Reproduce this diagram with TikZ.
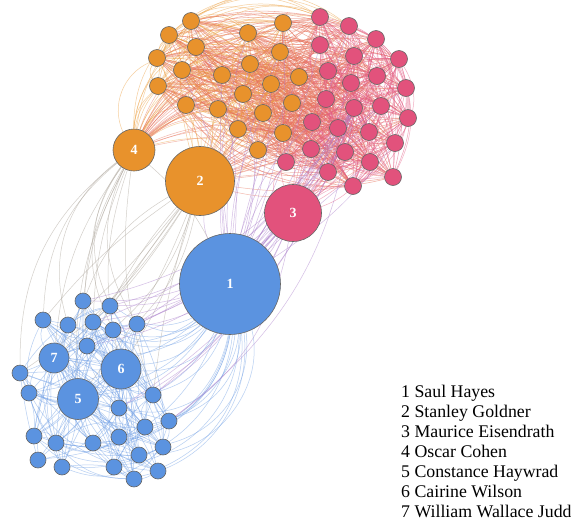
\documentclass[tikz,border=0pt]{standalone}
\usepackage{fontspec}
\setmainfont{Liberation Serif}
\definecolor{org}{HTML}{E8922C}
\definecolor{pnk}{HTML}{E2527C}
\definecolor{blu}{HTML}{5B93E0}
\definecolor{eo}{HTML}{EDA040}
\definecolor{ep}{HTML}{E45E86}
\definecolor{em}{HTML}{E8745E}
\definecolor{eb}{HTML}{6E9EE6}
\definecolor{epu}{HTML}{A97CCB}
\definecolor{egr}{HTML}{A8A095}
\pgfdeclarelayer{bgfill}
\pgfdeclarelayer{edges}
\pgfsetlayers{bgfill,edges,main}
\tikzset{
  nd/.style={circle, draw=black!60, line width=0.6pt, inner sep=0pt},
  sm/.style={nd, minimum size=17pt},
  onode/.style={sm, fill=org},
  pnode/.style={sm, fill=pnk},
  bnode/.style={sm, fill=blu, minimum size=16pt},
  lbl/.style={text=white, font=\bfseries\fontsize{14}{14}\selectfont},
  edg/.style={line width=0.5pt, opacity=0.5},
  tedg/.style={line width=0.55pt, opacity=0.55},
  leg/.style={anchor=base west, inner sep=0pt, font=\fontsize{17.8}{20}\selectfont}
}
\begin{document}
\begin{tikzpicture}[x=1pt,y=-1pt]
\begin{pgfonlayer}{bgfill}
\fill[white] (0,0) rectangle (571,520);
\end{pgfonlayer}
\useasboundingbox (0,0) rectangle (571,520);
% top cluster: t1..t21 orange, t22..t46 pink
\foreach \x/\y [count=\i] in {191/21,169/35,196/47,157/58,182/70,158/86,186/105,222/75,248/33,283/23,280/52,250/64,243/94,271/84,218/109,263/113,292/103,299/77,238/129,283/133,258/150}
  \node[onode] (t\i) at (\x,\y) {};
\foreach \x/\y [count=\i from 22] in {320/17,349/26,376/39,399/59,320/45,354/56,328/71,377/76,351/83,406/88,326/99,354/108,381/106,408/118,312/122,338/128,369/132,311/149,345/152,395/143,286/162,370/162,328/172,393/177,353/186}
  \node[pnode] (t\i) at (\x,\y) {};
\foreach \x/\y [count=\i] in {83/301,110/306,43/320,68/325,93/322,113/330,137/324,87/346,20/373,29/393,153/395,119/408,169/421,145/427,34/436,56/443,93/443,119/437,163/447,139/455,38/460,62/467,114/467,158/471,134/479}
  \node[bnode] (b\i) at (\x,\y) {};
% big nodes
\node[nd, fill=blu, minimum size=101pt, lbl] (n1) at (230,284) {1};
\node[nd, fill=org, minimum size=69pt, lbl] (n2) at (200,181) {2};
\node[nd, fill=pnk, minimum size=57pt, lbl] (n3) at (293,213) {3};
\node[nd, fill=org, minimum size=42pt, lbl] (n4) at (134,150) {4};
\node[nd, fill=blu, minimum size=41pt, lbl] (n5) at (78,399) {5};
\node[nd, fill=blu, minimum size=40pt, lbl] (n6) at (121,369) {6};
\node[nd, fill=blu, minimum size=30pt, lbl] (n7) at (54,358) {7};
% legend
\node[leg] (l1) at (401,397) {1 Saul Hayes};
\node[leg] (l2) at (401,417) {2 Stanley Goldner};
\node[leg] (l3) at (401,437) {3 Maurice Eisendrath};
\node[leg] (l4) at (401,457) {4 Oscar Cohen};
\node[leg] (l5) at (401,477) {5 Constance Haywrad};
\node[leg] (l6) at (401,497) {6 Cairine Wilson};
\node[leg] (l7) at (401,517) {7 William Wallace Judd};
\begin{pgfonlayer}{edges}
\pgfmathsetseed{11}
% top cluster internal edges
\foreach \i in {1,...,45} {
  \pgfmathtruncatemacro\ii{\i+1}
  \foreach \j in {\ii,...,46} {
    \pgfmathsetmacro\r{rnd}
    \pgfmathsetmacro\bb{rand*40}
    \ifnum\i<22 \ifnum\j<22 \def\ec{eo}\else\def\ec{em}\fi\else\def\ec{ep}\fi
    \ifdim\r pt<0.6pt
      \draw[tedg, \ec] (t\i) to[bend left=\bb] (t\j);
    \fi
  }
}
% node 4 and 2 to top cluster
\foreach \j in {1,...,46} {
  \pgfmathsetmacro\bb{15+rnd*35}
  \ifnum\j<22 \def\ec{eo}\else\def\ec{em}\fi
  \draw[edg, \ec] (n4) to[bend left=\bb] (t\j);
  \pgfmathsetmacro\bb{rand*30}
  \draw[edg, \ec] (n2) to[bend left=\bb] (t\j);
}
% node 3 to pink cluster and outer arcs
\foreach \j in {22,...,46} {
  \pgfmathsetmacro\bb{rand*35}
  \draw[edg, ep] (n3) to[bend left=\bb] (t\j);
}
\foreach \i/\j in {22/33,23/35,24/38,25/41,24/45,23/44,22/46,25/43,31/46,28/45,22/41,24/40,23/46,26/44,22/44,24/46}
  \draw[edg, ep] (t\i) to[bend left=35] (t\j);
\foreach \i/\j in {1/22,2/23,4/9,6/10,3/22,4/23,1/9,2/10,1/23,2/22,4/22,6/23}
  \draw[edg, eo] (t\i) to[bend left=35] (t\j);
% node 1 to top cluster (purple)
\foreach \j in {1,...,46} {
  \pgfmathsetmacro\r{rnd}
  \pgfmathsetmacro\bb{rand*15}
  \ifdim\r pt<0.6pt
    \draw[edg, epu] (n1) to[bend left=\bb] (t\j);
  \fi
}
\draw[edg, epu] (n1) to[bend left=10] (n2);
\draw[edg, epu] (n1) to[bend right=10] (n3);
\draw[edg, egr] (n4) to[bend left=10] (n1);
% node 1 to blue cluster
\foreach \j in {1,...,25} {
  \pgfmathsetmacro\bb{25+rnd*30}
  \draw[edg, eb] (n1) to[bend left=\bb] (b\j);
}
\foreach \j in {5,6,7} \draw[edg, eb] (n1) to[bend left=25] (n\j);
% blue cluster to 2, 3, 4 (gray / purple)
\foreach \j in {1,2,3,4,5,6,7,8,9,11} {
  \pgfmathsetmacro\bb{5+rnd*30}
  \draw[edg, egr] (n4) to[bend right=\bb] (b\j);
  \pgfmathsetmacro\bb{rand*20}
  \draw[edg, egr] (n2) to[bend left=\bb] (b\j);
}
\foreach \j in {5,6,7} {
  \draw[edg, egr] (n4) to[bend right=15] (n\j);
  \draw[edg, egr] (n2) to[bend left=8] (n\j);
}
\foreach \j in {1,2,5,6,7,8,11,12,13} {
  \pgfmathsetmacro\bb{10+rnd*15}
  \draw[edg, epu] (n3) to[bend left=\bb] (b\j);
  \draw[edg, epu] (t33) to[bend left=\bb] (b\j);
}
% blue cluster internal edges
\foreach \i in {1,...,24} {
  \pgfmathtruncatemacro\ii{\i+1}
  \foreach \j in {\ii,...,25} {
    \pgfmathsetmacro\r{rnd}
    \pgfmathsetmacro\bb{rand*40}
    \ifdim\r pt<0.3pt
      \draw[edg, eb] (b\i) to[bend left=\bb] (b\j);
    \fi
  }
}
\foreach \j in {1,...,25} {
  \pgfmathsetmacro\bb{rand*30}
  \draw[edg, eb] (n5) to[bend left=\bb] (b\j);
  \pgfmathsetmacro\bb{rand*30}
  \draw[edg, eb] (n6) to[bend left=\bb] (b\j);
  \pgfmathsetmacro\bb{rand*30}
  \draw[edg, eb] (n7) to[bend left=\bb] (b\j);
}
\draw[edg, eb] (n5) -- (n6);
\draw[edg, eb] (n5) -- (n7);
\draw[edg, eb] (n6) -- (n7);
\end{pgfonlayer}
\end{tikzpicture}
\end{document}
